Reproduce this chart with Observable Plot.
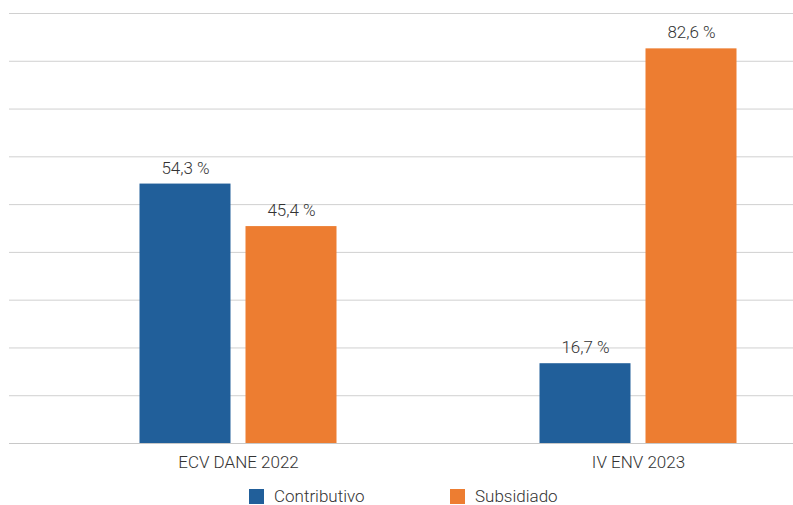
<!DOCTYPE html>
<html>
<head>
<meta charset="utf-8">
<script src="https://cdn.jsdelivr.net/npm/d3@7"></script>
<script src="https://cdn.jsdelivr.net/npm/@observablehq/plot@0.6"></script>
<style>
  html, body { margin: 0; padding: 0; background: #fff; }
  body { width: 793px; height: 505px; overflow: hidden; font-family: Roboto, sans-serif; position: relative; }
  #legend { position: absolute; left: 0; top: 486px; width: 793px; height: 20px; font-family: Roboto, sans-serif; font-size: 17px; font-weight: 300; color: #333; }
  .item { position: absolute; top: 0; display: flex; align-items: center; height: 20px; }
  .sw { width: 15px; height: 15px; margin-right: 10px; display: inline-block; }
</style>
</head>
<body>
<div id="chart"></div>
<div id="legend"></div>
<script>
const categories = ["ECV DANE 2022", "IV ENV 2023"];
const series = ["Contributivo", "Subsidiado"];
const contributivo = [54.3, 16.7];
const subsidiado = [45.4, 82.6];
const colors = ["#215F9A", "#ED7D31"];
const yTicks = [0, 10, 20, 30, 40, 50, 60, 70, 80, 90];

const data = [];
categories.forEach((c, i) => {
  data.push({category: c, series: series[0], value: contributivo[i]});
  data.push({category: c, series: series[1], value: subsidiado[i]});
});
const fmt = v => v.toFixed(1).replace(".", ",") + " %";

const W = 793, H = 475;
const barOpts = [
  {insetLeft: 101.5, insetRight: 207.5, dx: -53},
  {insetLeft: 207.5, insetRight: 101.5, dx: 53}
];

const marks = [
  Plot.ruleY(yTicks.slice(1), {stroke: "#d0d0d0", strokeWidth: 1})
];
series.forEach((s, k) => {
  const d = data.filter(r => r.series === s);
  marks.push(Plot.barY(d, {x: "category", y: "value", fill: colors[k], insetLeft: barOpts[k].insetLeft, insetRight: barOpts[k].insetRight}));
  marks.push(Plot.text(d, {x: "category", y: "value", text: r => fmt(r.value), dx: barOpts[k].dx, dy: -16, fill: "#333", fontSize: 17, fontWeight: 300}));
});
marks.push(Plot.ruleY([0], {stroke: "#c8c8c8", strokeWidth: 1}));

const chart = Plot.plot({
  width: W,
  height: H,
  marginLeft: 9,
  marginRight: 0,
  marginTop: 13,
  marginBottom: 32,
  style: {fontFamily: "Roboto, sans-serif", fontSize: "17px", fontWeight: 300, color: "#333", background: "#fff"},
  x: {domain: categories, range: [37.5, 837.5], padding: 0, tickSize: 0, tickPadding: 12, label: null},
  y: {domain: [0, 90], axis: null},
  marks
});
document.getElementById("chart").appendChild(chart);

const legend = document.getElementById("legend");
const lx = [249, 450];
series.forEach((s, k) => {
  const it = document.createElement("div");
  it.className = "item";
  it.style.left = lx[k] + "px";
  const sw = document.createElement("span");
  sw.className = "sw";
  sw.style.background = colors[k];
  const t = document.createElement("span");
  t.textContent = s;
  it.appendChild(sw);
  it.appendChild(t);
  legend.appendChild(it);
});
</script>
</body>
</html>
